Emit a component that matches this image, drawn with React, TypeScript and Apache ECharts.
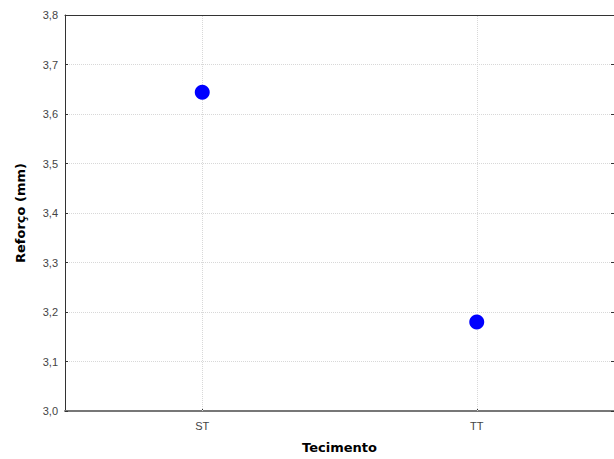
import React, { useEffect, useRef } from "react";
import * as echarts from "echarts";

const categories = ["ST", "TT"];
const values = [3.644, 3.18];
const yMin = 3.0;
const yMax = 3.8;
const yStep = 0.1;

export default function App() {
  const ref = useRef<HTMLDivElement>(null);
  useEffect(() => {
    document.body.style.margin = "0";
    const chart = echarts.init(ref.current!, null, { renderer: "svg" });
    const fmt = (v: number) => v.toFixed(1).replace(".", ",");
    const titleStyle = { fontFamily: "DejaVu Sans", fontWeight: "bold", fontSize: 13, color: "#000" };
    chart.setOption({
      animation: false,
      backgroundColor: "#ffffff",
      grid: {
        left: 65,
        top: 15,
        right: -1,
        bottom: 48,
        show: false,
      },
      xAxis: [
        {
          type: "category",
          data: categories,
          boundaryGap: true,
          name: "Tecimento",
          nameLocation: "middle",
          nameGap: 30,
          nameTextStyle: titleStyle,
          axisLine: { show: true, lineStyle: { color: "#777777", width: 2 } },
          axisTick: { show: true, alignWithLabel: true, inside: true, length: 3, lineStyle: { color: "#333" } },
          axisLabel: { fontFamily: "Liberation Sans, Arial", fontSize: 11, color: "#444", margin: 9 },
          splitLine: { show: false },
        },
        {
          type: "category",
          data: categories,
          position: "top",
          axisLine: { show: true, lineStyle: { color: "#333333", width: 1 } },
          axisTick: { show: false },
          axisLabel: { show: false },
          splitLine: { show: false },
        },
      ],
      yAxis: [
        {
          type: "value",
          min: yMin,
          max: yMax,
          interval: yStep,
          name: "Reforço (mm)",
          nameLocation: "middle",
          nameGap: 38,
          nameRotate: 90,
          nameTextStyle: titleStyle,
          axisLine: { show: true, lineStyle: { color: "#333333", width: 1 } },
          axisTick: { show: true, inside: true, length: 3, lineStyle: { color: "#333" } },
          axisLabel: { fontFamily: "Liberation Sans, Arial", fontSize: 11, color: "#444", margin: 7, formatter: fmt },
          splitLine: { show: true, lineStyle: { type: "dotted", color: "#d8d8d8" } },
        },
        {
          type: "value",
          position: "right",
          min: yMin,
          max: yMax,
          interval: yStep,
          axisLine: { show: false },
          axisTick: { show: true, inside: true, length: 3, lineStyle: { color: "#333" } },
          axisLabel: { show: false },
          splitLine: { show: false },
        },
      ],
      series: [
        {
          type: "scatter",
          data: values,
          symbol: "circle",
          symbolSize: 15,
          itemStyle: { color: "#0000ff", opacity: 1 },
          z: 5,
          markLine: {
            silent: true,
            symbol: ["none", "none"],
            label: { show: false },
            lineStyle: { type: "dotted", color: "#d8d8d8", width: 1 },
            data: categories.map((c) => ({ xAxis: c })),
          },
        },
      ],
    });
    return () => chart.dispose();
  }, []);
  return <div ref={ref} style={{ width: 614, height: 459 }} />;
}
